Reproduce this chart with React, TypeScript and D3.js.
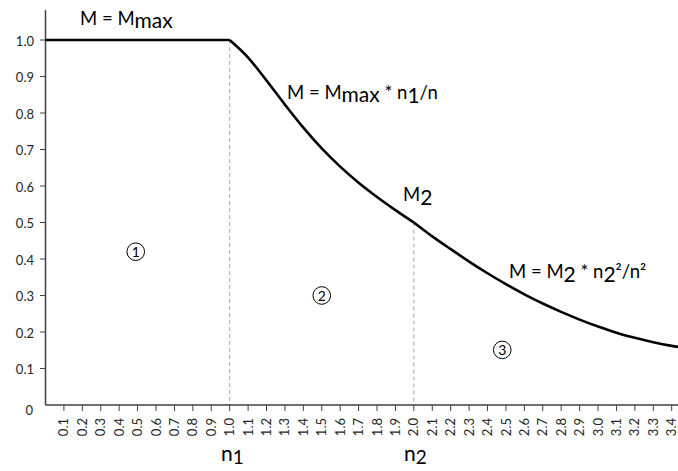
import React from "react";
import * as d3 from "d3";

const xTicks = ["0.1","0.2","0.3","0.4","0.5","0.6","0.7","0.8","0.9","1.0","1.1","1.2","1.3","1.4","1.5","1.6","1.7","1.8","1.9","2.0","2.1","2.2","2.3","2.4","2.5","2.6","2.7","2.8","2.9","3.0","3.1","3.2","3.3","3.4"];
const yTicks = [0, 0.1, 0.2, 0.3, 0.4, 0.5, 0.6, 0.7, 0.8, 0.9, 1.0];

const nFlat = [0, 1.0];
const mFlat = [1.0, 1.0];
const nHyper = [1.0, 1.1, 1.2, 1.3, 1.4, 1.5, 1.6, 1.7, 1.8, 1.9, 2.0];
const mHyper = [1.0, 0.952, 0.889, 0.823, 0.760, 0.703, 0.653, 0.609, 0.570, 0.534, 0.5];
const nSquare = [2.0, 2.1, 2.2, 2.3, 2.4, 2.5, 2.6, 2.7, 2.8, 2.9, 3.0, 3.1, 3.2, 3.3, 3.4, 3.5];
const mSquare = [0.5, 0.462, 0.427, 0.393, 0.361, 0.331, 0.303, 0.278, 0.255, 0.234, 0.215, 0.198, 0.184, 0.172, 0.162, 0.154];

const FONT = "Lato, 'Open Sans', sans-serif";

export default function App() {
  const W = 678, H = 471;
  const x = d3.scaleLinear().domain([0, 3.4]).range([45.5, 671.7]);
  const y = d3.scaleLinear().domain([0, 1]).range([405, 40]);
  const line = d3.line<[number, number]>().x(d => x(d[0])).y(d => y(d[1]));
  const curve = d3.line<[number, number]>().x(d => x(d[0])).y(d => y(d[1])).curve(d3.curveMonotoneX);
  const flat = line(nFlat.map((n, i) => [n, mFlat[i]] as [number, number])) || "";
  const hyper = curve(nHyper.map((n, i) => [n, mHyper[i]] as [number, number])) || "";
  const square = curve(nSquare.map((n, i) => [n, mSquare[i]] as [number, number])) || "";
  const circled = [
    { n: 0.49, m: 0.42, t: "1" },
    { n: 1.5, m: 0.30, t: "2" },
    { n: 2.48, m: 0.151, t: "3" },
  ];
  const FS = 18.5, SUB = 21;
  return (
    <svg width={W} height={H} style={{ position: "absolute", left: 0, top: 0, background: "#fff" }} fontFamily={FONT}>
      <rect width={W} height={H} fill="#fff" />
      {/* dashed guides */}
      <line x1={x(1.0)} x2={x(1.0)} y1={y(1.0)} y2={y(0)} stroke="#a6a6a6" strokeWidth={1} strokeDasharray="4,3" />
      <line x1={x(2.0)} x2={x(2.0)} y1={y(0.5)} y2={y(0)} stroke="#a6a6a6" strokeWidth={1} strokeDasharray="4,3" />
      {/* axes */}
      <line x1={45.5} x2={45.5} y1={10} y2={405} stroke="#404040" strokeWidth={1.5} />
      <line x1={45.5} x2={678} y1={405} y2={405} stroke="#404040" strokeWidth={1.5} />
      {yTicks.map(v => (
        <g key={"y" + v}>
          {v > 0 && <line x1={40} x2={45.5} y1={y(v)} y2={y(v)} stroke="#404040" strokeWidth={1} />}
          <text x={v > 0 ? 34 : 33} y={y(v) + (v > 0 ? 1 : 5)} dy="0.35em" textAnchor="end" fontSize={13} fill="#262626">
            {v === 0 ? "0" : v.toFixed(1)}
          </text>
        </g>
      ))}
      {xTicks.map(t => {
        const xv = x(+t);
        return (
          <g key={"x" + t}>
            <line x1={xv} x2={xv} y1={405} y2={411} stroke="#404040" strokeWidth={1} />
            <text transform={`translate(${xv},${418}) rotate(-90)`} dy="0.35em" textAnchor="end" fontSize={13} fill="#262626">
              {t}
            </text>
          </g>
        );
      })}
      {/* curve */}
      <path d={flat} fill="none" stroke="#000" strokeWidth={2.6} />
      <path d={hyper} fill="none" stroke="#000" strokeWidth={2.6} />
      <path d={square} fill="none" stroke="#000" strokeWidth={2.6} />
      {/* circled region numbers */}
      {circled.map(c => (
        <g key={c.t}>
          <circle cx={x(c.n)} cy={y(c.m)} r={8.8} fill="none" stroke="#000" strokeWidth={1} />
          <text x={x(c.n)} y={y(c.m)} dy="0.36em" textAnchor="middle" fontSize={14} fill="#000">{c.t}</text>
        </g>
      ))}
      {/* formula labels */}
      <text x={80} y={25} fontSize={FS} fill="#000">
        M = M<tspan dy={3} fontSize={SUB}>max</tspan>
      </text>
      <text x={287} y={99} fontSize={FS} fill="#000">
        M = M<tspan dy={3} fontSize={SUB}>max</tspan><tspan dy={-3}> * n</tspan><tspan dy={4} fontSize={SUB}>1</tspan><tspan dy={-4}>/n</tspan>
      </text>
      <text x={403} y={201} fontSize={FS} fill="#000">
        M<tspan dy={4} fontSize={SUB}>2</tspan>
      </text>
      <text x={509} y={278} fontSize={FS} fill="#000">
        M = M<tspan dy={4} fontSize={SUB}>2</tspan><tspan dy={-4}> * n</tspan><tspan dy={4} fontSize={SUB}>2</tspan><tspan dy={-4}>²/n²</tspan>
      </text>
      <text x={221} y={461} fontSize={21} fill="#000">
        n<tspan dy={3} fontSize={19}>1</tspan>
      </text>
      <text x={404} y={461} fontSize={21} fill="#000">
        n<tspan dy={3} fontSize={19}>2</tspan>
      </text>
    </svg>
  );
}
